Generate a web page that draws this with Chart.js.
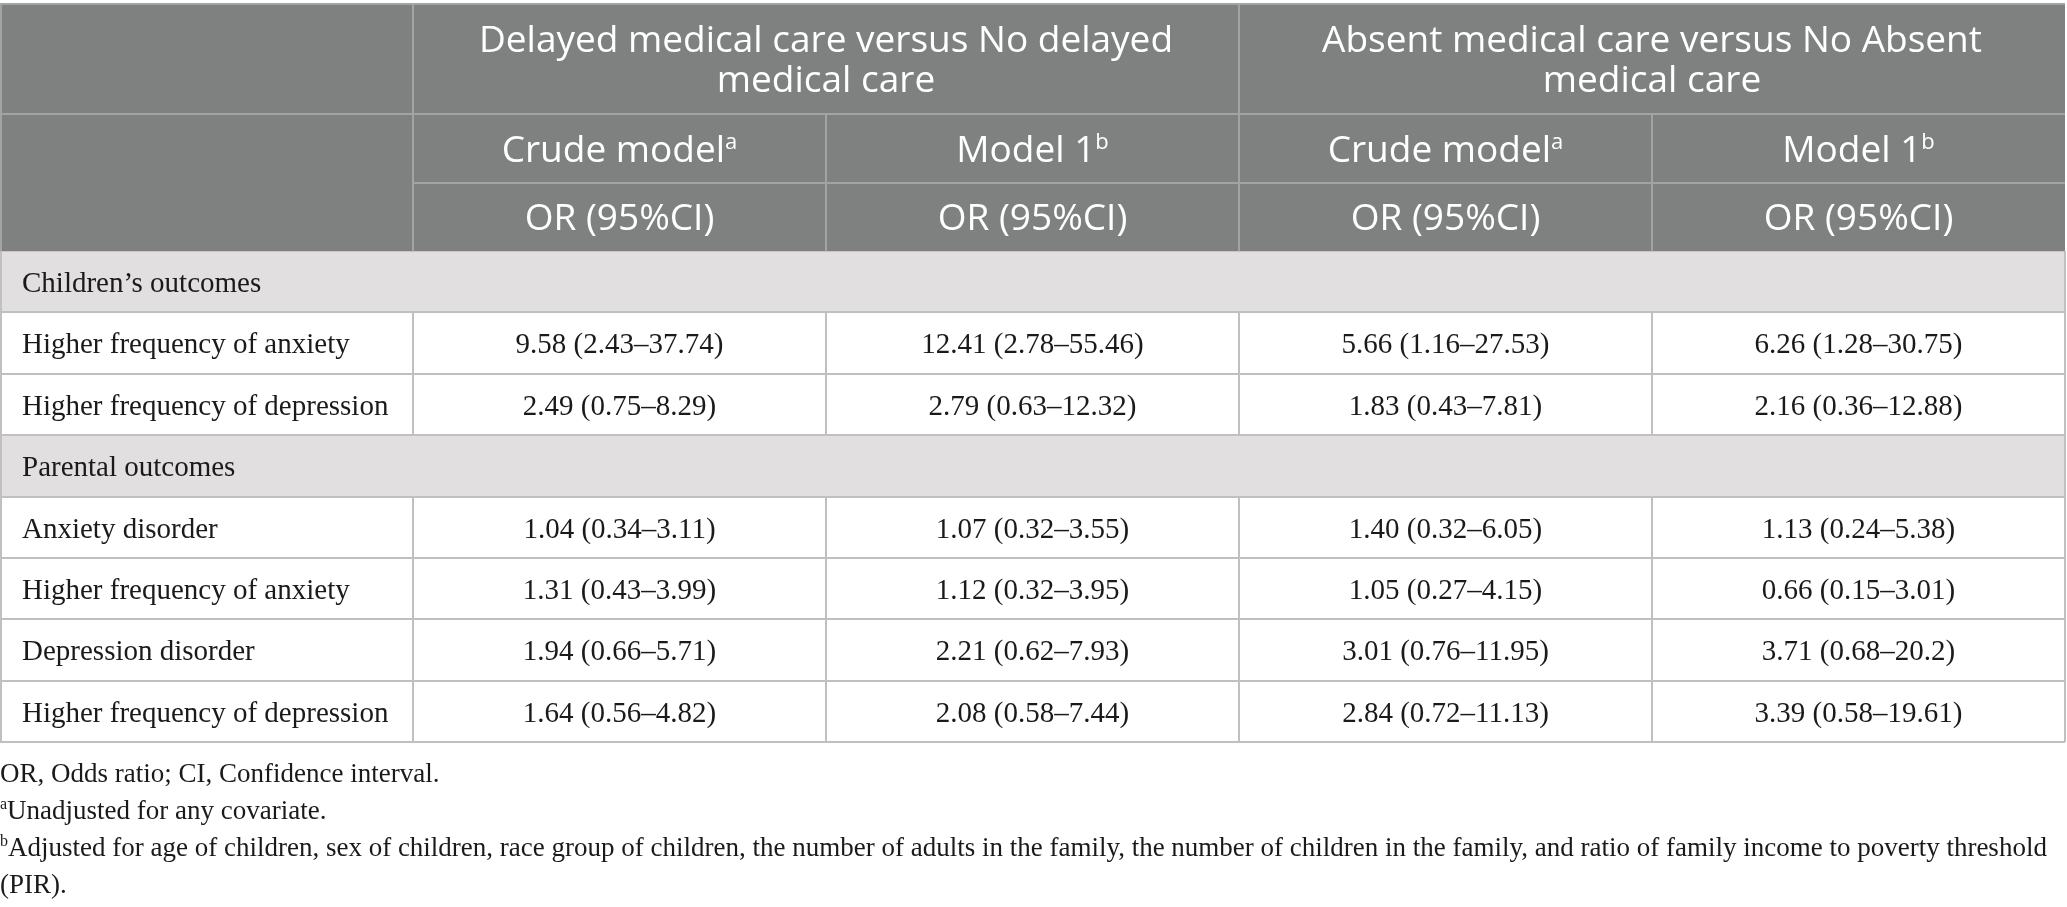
<!DOCTYPE html>
<html>
<head>
<meta charset="utf-8">
<script src="https://cdn.jsdelivr.net/npm/chart.js@4.4.1/dist/chart.umd.min.js"></script>
<style>
  html, body { margin: 0; padding: 0; background: #fff; }
  #wrap { position: relative; width: 2067px; height: 907px; }
</style>
</head>
<body>
<div id="wrap"><canvas id="tableChart"></canvas></div>
<script>
// ---- table content ----
const columnKeys = ["outcome", "delayedCrude", "delayedModel1", "absentCrude", "absentModel1"];
const groupTitles = [
  ["Delayed medical care versus No delayed", "medical care"],
  ["Absent medical care versus No Absent", "medical care"]
];
const modelTitles = ["Crude model", "Model 1", "Crude model", "Model 1"];
const modelMarks = ["a", "b", "a", "b"];
const statTitle = "OR (95%CI)";
const sectionTitles = ["Children’s outcomes", "Parental outcomes"];

const childOutcomes = ["Higher frequency of anxiety", "Higher frequency of depression"];
const childDelayedCrude = ["9.58 (2.43–37.74)", "2.49 (0.75–8.29)"];
const childDelayedModel1 = ["12.41 (2.78–55.46)", "2.79 (0.63–12.32)"];
const childAbsentCrude = ["5.66 (1.16–27.53)", "1.83 (0.43–7.81)"];
const childAbsentModel1 = ["6.26 (1.28–30.75)", "2.16 (0.36–12.88)"];

const parentOutcomes = ["Anxiety disorder", "Higher frequency of anxiety", "Depression disorder", "Higher frequency of depression"];
const parentDelayedCrude = ["1.04 (0.34–3.11)", "1.31 (0.43–3.99)", "1.94 (0.66–5.71)", "1.64 (0.56–4.82)"];
const parentDelayedModel1 = ["1.07 (0.32–3.55)", "1.12 (0.32–3.95)", "2.21 (0.62–7.93)", "2.08 (0.58–7.44)"];
const parentAbsentCrude = ["1.40 (0.32–6.05)", "1.05 (0.27–4.15)", "3.01 (0.76–11.95)", "2.84 (0.72–11.13)"];
const parentAbsentModel1 = ["1.13 (0.24–5.38)", "0.66 (0.15–3.01)", "3.71 (0.68–20.2)", "3.39 (0.58–19.61)"];

const footnoteMarks = ["", "a", "b"];
const footnotes = [
  "OR, Odds ratio; CI, Confidence interval.",
  "Unadjusted for any covariate.",
  "Adjusted for age of children, sex of children, race group of children, the number of adults in the family, the number of children in the family, and ratio of family income to poverty threshold (PIR)."
];

// ---- layout ----
const rowHeights = [110, 69, 68, 61, 62, 61, 62, 61, 61, 62, 61];
const rowEdges = [0];
rowHeights.forEach(h => rowEdges.push(rowEdges[rowEdges.length - 1] + h));

const headerFill = "#7f8180";
const sectionFill = "#e1dfe0";
const headerLine = "#a2a3a2";
const bodyLine = "#c0c0c0";
const headFont = "\"Open Sans\"";
const bodyFont = "\"Liberation Serif\"";

const bands = [
  { from: 0, to: 3, color: headerFill },
  { from: 3, to: 4, color: sectionFill },
  { from: 4, to: 6, color: "#ffffff" },
  { from: 6, to: 7, color: sectionFill },
  { from: 7, to: 11, color: "#ffffff" }
];

// rows of the body as [firstColumn, ...values], with their table row index
const bodyRows = [];
childOutcomes.forEach((o, i) => bodyRows.push({ row: 4 + i, cells: [o, childDelayedCrude[i], childDelayedModel1[i], childAbsentCrude[i], childAbsentModel1[i]] }));
parentOutcomes.forEach((o, i) => bodyRows.push({ row: 7 + i, cells: [o, parentDelayedCrude[i], parentDelayedModel1[i], parentAbsentCrude[i], parentAbsentModel1[i]] }));

function drawParts(ctx, parts, x, baseline, align) {
  let total = 0;
  parts.forEach(p => { ctx.font = p.font; p.w = ctx.measureText(p.text).width; total += p.w; });
  let cur = align === "center" ? x - total / 2 : x;
  parts.forEach(p => {
    ctx.font = p.font;
    ctx.fillText(p.text, cur, baseline - (p.rise || 0));
    cur += p.w;
  });
}

function line(ctx, x1, y1, x2, y2) {
  ctx.beginPath();
  ctx.moveTo(x1, y1);
  ctx.lineTo(x2, y2);
  ctx.stroke();
}

const tablePlugin = {
  id: "tableText",
  afterDatasetsDraw(chart) {
    const ctx = chart.ctx;
    const x = chart.scales.x, y = chart.scales.y;
    const colLeft = i => x.getPixelForValue(i - 0.5);
    const colMid = i => x.getPixelForValue(i);
    const edge = r => y.getPixelForValue(rowEdges[r]);
    const rowMid = r => (edge(r) + edge(r + 1)) / 2;
    const L = x.left, R = x.right;

    ctx.save();
    ctx.textAlign = "left";
    ctx.textBaseline = "alphabetic";

    // header rules
    ctx.strokeStyle = headerLine;
    ctx.lineWidth = 2;
    line(ctx, L, edge(0), R, edge(0));
    line(ctx, L, edge(1), R, edge(1));
    line(ctx, colLeft(1), edge(2), R, edge(2));
    line(ctx, L + 1, edge(0), L + 1, edge(3));
    line(ctx, colLeft(1), edge(0), colLeft(1), edge(3));
    line(ctx, colLeft(3), edge(0), colLeft(3), edge(3));
    line(ctx, colLeft(2), edge(1), colLeft(2), edge(3));
    line(ctx, colLeft(4), edge(1), colLeft(4), edge(3));

    // body rules
    ctx.strokeStyle = bodyLine;
    for (let r = 4; r <= 11; r++) line(ctx, L, edge(r), R, edge(r));
    line(ctx, L + 1, edge(3), L + 1, edge(11));
    line(ctx, R, edge(3), R, edge(11));
    [[4, 6], [7, 11]].forEach(([a, b]) => {
      for (let c = 1; c <= 4; c++) line(ctx, colLeft(c), edge(a), colLeft(c), edge(b));
    });

    // header text
    ctx.fillStyle = "#ffffff";
    groupTitles.forEach((lines, g) => {
      const cx = (colLeft(1 + g * 2) + colLeft(3 + g * 2)) / 2;
      const mid = rowMid(0);
      lines.forEach((t, k) => {
        drawParts(ctx, [{ text: t, font: "37px " + headFont }], cx, mid - 7 + k * 40, "center");
      });
    });
    modelTitles.forEach((t, i) => {
      drawParts(ctx, [
        { text: t, font: "37px " + headFont },
        { text: modelMarks[i], font: "22px " + headFont, rise: 13 }
      ], colMid(i + 1), rowMid(1) + 13, "center");
      drawParts(ctx, [{ text: statTitle, font: "37px " + headFont }], colMid(i + 1), rowMid(2) + 13, "center");
    });

    // sections and body
    ctx.fillStyle = "#1a1a1a";
    const pad = 22;
    drawParts(ctx, [{ text: sectionTitles[0], font: "29px " + bodyFont }], L + pad, rowMid(3) + 10, "left");
    drawParts(ctx, [{ text: sectionTitles[1], font: "29px " + bodyFont }], L + pad, rowMid(6) + 10, "left");
    bodyRows.forEach(br => {
      br.cells.forEach((t, c) => {
        if (c === 0) drawParts(ctx, [{ text: t, font: "29px " + bodyFont }], L + pad, rowMid(br.row) + 10, "left");
        else drawParts(ctx, [{ text: t, font: "29px " + bodyFont }], colMid(c), rowMid(br.row) + 10, "center");
      });
    });

    // footnotes, wrapped to the page width
    const noteFont = "27px " + bodyFont;
    const markFont = "16px " + bodyFont;
    let base = edge(11) + 40;
    footnotes.forEach((t, i) => {
      ctx.font = markFont;
      const mw = footnoteMarks[i] ? ctx.measureText(footnoteMarks[i]).width : 0;
      ctx.font = noteFont;
      const words = t.split(" ");
      const lines = [];
      let cur = "";
      words.forEach(w => {
        const test = cur ? cur + " " + w : w;
        const lim = (lines.length === 0 ? chart.width - mw : chart.width) - 6;
        if (ctx.measureText(test).width > lim && cur) { lines.push(cur); cur = w; }
        else cur = test;
      });
      lines.push(cur);
      lines.forEach((ln, k) => {
        const parts = [];
        if (k === 0 && footnoteMarks[i]) parts.push({ text: footnoteMarks[i], font: markFont, rise: 10 });
        parts.push({ text: ln, font: noteFont });
        drawParts(ctx, parts, 0, base, "left");
        base += 37;
      });
    });
    ctx.restore();
  }
};

new Chart(document.getElementById("tableChart"), {
  type: "bar",
  data: {
    labels: columnKeys,
    datasets: bands.map(b => ({
      data: columnKeys.map(() => [rowEdges[b.from], rowEdges[b.to]]),
      backgroundColor: b.color,
      borderWidth: 0,
      grouped: false,
      categoryPercentage: 1,
      barPercentage: 1
    }))
  },
  options: {
    responsive: true,
    maintainAspectRatio: false,
    animation: false,
    events: [],
    layout: { padding: { top: 4, left: 0, right: 2, bottom: 165 } },
    plugins: { legend: { display: false }, tooltip: { enabled: false } },
    scales: {
      x: { type: "category", offset: true, display: false, grid: { display: false } },
      y: { type: "linear", min: 0, max: rowEdges[rowEdges.length - 1], reverse: true, display: false, grid: { display: false } }
    }
  },
  plugins: [tablePlugin]
});
</script>
</body>
</html>
